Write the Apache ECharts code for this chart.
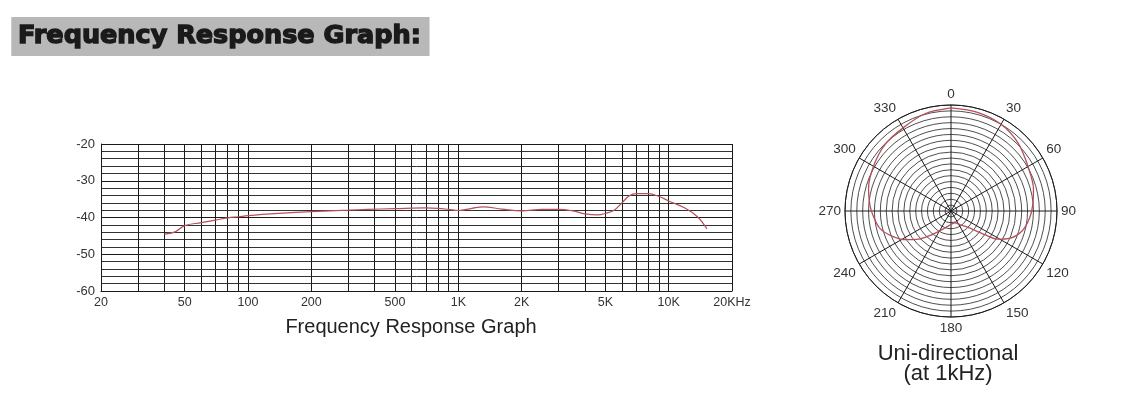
<!DOCTYPE html>
<html>
<head>
<meta charset="utf-8">
<script src="https://cdn.jsdelivr.net/npm/echarts@6/dist/echarts.min.js"></script>
<style>
html,body{margin:0;padding:0;background:#fff;}
#chart{width:1125px;height:408px;}
</style>
</head>
<body>
<div id="chart"></div>
<script>
// ---- Frequency response data ----
const freqHz = [40, 45, 50, 60, 70, 80, 90, 100, 140, 200, 300, 370, 500, 700, 800, 900, 1000, 1160, 1310, 1610, 2000, 2500, 3000, 3500, 4000, 4600, 5000, 5500, 6000, 6500, 7000, 8000, 9000, 10000, 12000, 13700, 15200];
const responseDb = [-44.5, -43.9, -42.2, -41.4, -40.7, -40.1, -39.8, -39.5, -38.9, -38.4, -38.0, -37.8, -37.6, -37.4, -37.5, -37.8, -38.1, -37.5, -37.1, -37.7, -38.2, -37.8, -37.8, -38.2, -39.0, -39.3, -38.9, -38.0, -36.0, -34.1, -33.5, -33.5, -34.3, -35.5, -37.5, -39.8, -43.1];

// axis ticks / labels
const freqLabelValues = [20, 50, 100, 200, 500, 1000, 2000, 5000, 10000, 20000];
const freqLabelText = ['20', '50', '100', '200', '500', '1K', '2K', '5K', '10K', '20KHz'];
const freqGridValues = [20, 30, 40, 50, 60, 70, 80, 90, 100, 200, 300, 400, 500, 600, 700, 800, 900, 1000, 2000, 3000, 4000, 5000, 6000, 7000, 8000, 9000, 10000, 20000];
const dbMin = -60, dbMax = -20;

// ---- Polar pattern data (at 1kHz) ----
const polarAngle = [0, 15, 30, 45, 60, 75, 86, 95, 106, 115, 121, 125, 134, 145, 162, 180, 203, 219, 229, 238, 247, 256, 266, 274, 285, 300, 315, 330, 345, 360];
const polarLevel = [17.5, 17.35, 17.0, 16.2, 15.1, 14.5, 13.9, 13.4, 12.5, 11.0, 9.3, 7.0, 4.0, 2.9, 2.1, 2.3, 3.3, 5.2, 7.3, 9.2, 10.9, 12.4, 13.2, 13.8, 14.5, 15.2, 15.9, 16.3, 17.1, 17.5];
const polarRings = 18;

const lg = v => Math.log10(v);
const labelMap = {};
freqLabelValues.forEach((f, i) => { labelMap[f] = freqLabelText[i]; });

const chart = echarts.init(document.getElementById('chart'));
const lineColor = '#b4505c';
const gridColor = '#1a1a1a';

chart.setOption({
  animation: false,
  backgroundColor: '#ffffff',
  title: [
    {
      text: 'Frequency Response Graph:',
      left: 12, top: 17,
      padding: [5, 8, 5, 6],
      backgroundColor: '#b8b8b8',
      textStyle: {
        fontFamily: 'DejaVu Sans', fontWeight: 'bold', fontSize: 25.5, lineHeight: 29,
        color: '#1a1a1a', textBorderColor: '#1a1a1a', textBorderWidth: 1.4
      }
    },
    {
      text: 'Frequency Response Graph',
      left: 411, top: 317, textAlign: 'center', padding: 0,
      textStyle: { fontFamily: 'Liberation Sans', fontWeight: 'normal', fontSize: 20, color: '#222' }
    },
    {
      text: 'Uni-directional\n(at 1kHz)',
      left: 948, top: 344, textAlign: 'center', padding: 0,
      textStyle: { fontFamily: 'Liberation Sans', fontWeight: 'normal', fontSize: 22, lineHeight: 20, color: '#222' }
    }
  ],
  grid: { left: 101, right: 393, top: 144, bottom: 117, containLabel: false },
  xAxis: {
    type: 'value',
    min: lg(20), max: lg(20000),
    axisLine: { show: true, lineStyle: { color: gridColor, width: 1 } },
    axisTick: { show: false, customValues: freqGridValues.map(lg) },
    axisLabel: {
      customValues: freqLabelValues.map(lg),
      formatter: v => labelMap[Math.round(Math.pow(10, v))] || '',
      fontFamily: 'Liberation Sans', fontSize: 12.5, color: '#333', margin: 5
    },
    splitLine: { show: true, lineStyle: { color: gridColor, width: 1 } }
  },
  yAxis: {
    type: 'value',
    min: dbMin, max: dbMax, interval: 10,
    axisLine: { show: true, lineStyle: { color: gridColor, width: 1 } },
    axisTick: { show: false },
    axisLabel: { fontFamily: 'Liberation Sans', fontSize: 13, color: '#333', margin: 6 },
    splitLine: { show: true, lineStyle: { color: gridColor, width: 1 } },
    minorTick: { show: false, splitNumber: 5 },
    minorSplitLine: { show: true, lineStyle: { color: '#333', width: 1 } }
  },
  polar: { center: [951, 211], radius: 106 },
  angleAxis: {
    type: 'value', min: 0, max: 360, interval: 30, startAngle: 90, clockwise: true,
    axisLine: { show: true, lineStyle: { color: gridColor, width: 1 } },
    axisTick: { show: false },
    axisLabel: { fontFamily: 'Liberation Sans', fontSize: 13.5, color: '#333', margin: 4 },
    splitLine: { show: true, lineStyle: { color: gridColor, width: 1 } }
  },
  radiusAxis: {
    type: 'value', min: 0, max: polarRings, interval: 1,
    axisLine: { show: false }, axisTick: { show: false }, axisLabel: { show: false },
    splitLine: { show: true, lineStyle: { color: '#222', width: 0.8 } }
  },
  series: [
    {
      type: 'line',
      xAxisIndex: 0, yAxisIndex: 0,
      data: freqHz.map((f, i) => [lg(f), responseDb[i]]),
      smooth: 0.4, showSymbol: false, symbol: 'none',
      lineStyle: { color: lineColor, width: 1.2 },
      z: 5
    },
    {
      type: 'line',
      coordinateSystem: 'polar',
      data: polarAngle.map((a, i) => [polarLevel[i], a]),
      smooth: 0.3, showSymbol: false, symbol: 'none',
      lineStyle: { color: lineColor, width: 1.3 },
      z: 5
    }
  ]
});
</script>
</body>
</html>
